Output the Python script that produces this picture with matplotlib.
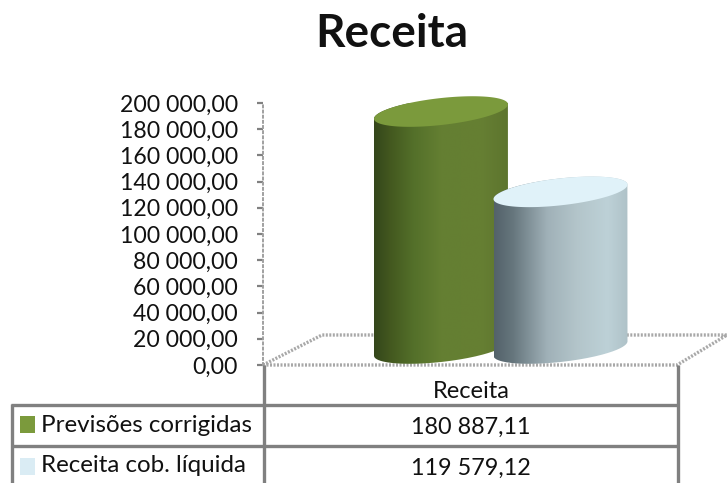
import numpy as np
import matplotlib
matplotlib.use("Agg")
import matplotlib.pyplot as plt
from matplotlib.colors import LinearSegmentedColormap
from matplotlib.lines import Line2D
from matplotlib.patches import PathPatch, Polygon, Rectangle
from matplotlib.path import Path
from matplotlib.ticker import FuncFormatter

title = "Receita"
category = "Receita"
series_names = ["Previsões corrigidas", "Receita cob. líquida"]
series_values = [180887.11, 119579.12]
y_ticks = list(range(0, 200001, 20000))

top_colors = ["#7b9a3c", "#e0f2f9"]
swatch_colors = ["#7b9a3c", "#daecf4"]
side_colors = [
    [(0, "#34461b"), (.12, "#43581f"), (.3, "#54702a"), (.5, "#647f32"), (.8, "#667f33"), (1, "#5d752e")],
    [(0, "#53626a"), (.14, "#66767d"), (.4, "#a0b1b8"), (.62, "#b3c5ca"), (.85, "#bdd1d7"), (1, "#afc2c8")],
]
GRAY = "#808080"
FONT = "Lato"
W, H = 727, 483
plt.rcParams["font.family"] = [FONT, "DejaVu Sans"]

fig = plt.figure(figsize=(W / 100, H / 100), dpi=100)
L, R, Y0, Y200 = 263, 727, 365, 103
ax = fig.add_axes([L / W, 1 - Y0 / H, (R - L) / W, (Y0 - Y200) / H])
ax.patch.set_alpha(0)
ax.set_ylim(0, 200000)
SPACING = 119.5
C0 = 441
ax.set_xlim((L - C0) / SPACING, (R - C0) / SPACING)
for s in ("top", "right", "bottom"):
    ax.spines[s].set_visible(False)
ax.spines["left"].set_color("#a0a0a0")
ax.spines["left"].set_linestyle(":")
ax.spines["left"].set_linewidth(1.4)
ax.set_xticks([])
ax.set_yticks(y_ticks)
ax.yaxis.set_major_formatter(FuncFormatter(lambda v, _: f"{v:,.2f}".replace(",", " ").replace(".", ",")))
ax.tick_params(axis="y", length=4.5, width=1.6, color=GRAY, pad=13.5, labelsize=16.6, labelcolor="#111111")

# px helpers for the 3D decoration
dx = lambda px: px / SPACING
dy = lambda px: px * 200000 / (Y0 - Y200)

# floor
floor = [(L, 0), (677, 0), (727, 30), (322, 30)]
floor = [((x - C0) / SPACING, dy(y)) for x, y in floor]
ax.add_patch(Polygon(floor, closed=True, fill=False, ec="#a8a8a8", lw=2.4, ls=(0, (0.6, 0.45)), clip_on=False, zorder=1))

# cylinders
a, b, k, base = dx(67), dy(13.5), dy(7.2), dy(16.5)
t = np.linspace(0, 2 * np.pi, 240)
def ring(cx, cy, tt):
    return np.c_[cx + a * np.cos(tt), cy + b * np.sin(tt) + k * np.cos(tt)]
for i, v in enumerate(series_values):
    top = base + v
    low = np.linspace(np.pi, 2 * np.pi, 120)
    up = np.linspace(0, np.pi, 120)
    verts = np.vstack([ring(i, base, low), ring(i, top, up)])
    verts = np.vstack([verts, verts[0]])
    body = PathPatch(Path(verts), fc="none", ec="none", transform=ax.transData, zorder=2 + i)
    ax.add_patch(body)
    cmap = LinearSegmentedColormap.from_list(f"c{i}", side_colors[i])
    im = ax.imshow(np.linspace(0, 1, 256)[None, :], cmap=cmap, aspect="auto",
                   extent=[i - a, i + a, 0, top + 2 * k + b], zorder=2 + i, clip_on=True, interpolation="bilinear")
    im.set_clip_path(body)
    ax.add_patch(Polygon(ring(i, top, t), closed=True, fc=top_colors[i], ec="none", zorder=2 + i, clip_on=False))
ax.set_xlim((L - C0) / SPACING, (R - C0) / SPACING)
ax.set_ylim(0, 200000)

# table
def line(x0, y0, x1, y1, lw=2.4):
    fig.add_artist(Line2D([x0 / W, x1 / W], [1 - y0 / H, 1 - y1 / H], color=GRAY, lw=lw, solid_capstyle="butt"))
line(264, 365, 264, 483)
line(678, 365, 678, 483)
line(11, 405, 678, 405)
line(11, 446, 678, 446)
line(11.5, 404, 11.5, 483)

def text(x, y, s, **kw):
    fig.text(x / W, 1 - y / H, s, va="center", color="#111111", **kw)
text(471, 391, category, ha="center", fontsize=17)
rows = [(425, 416, 433), (466, 458, 475)]
for (yc, y0, y1), name, val, col in zip(rows, series_names, series_values, swatch_colors):
    fig.add_artist(Rectangle((20 / W, 1 - y1 / H), 15 / W, (y1 - y0) / H, fc=col, ec="none", transform=fig.transFigure))
    text(41, yc, name, ha="left", fontsize=17.4)
    text(471, yc + 2, f"{val:,.2f}".replace(",", " ").replace(".", ","), ha="center", fontsize=16.8)
fig.text(392 / W, 1 - 34 / H, title, ha="center", va="center", fontsize=33, fontweight="bold", color="#111111")

fig.savefig("out.png", dpi=100)
